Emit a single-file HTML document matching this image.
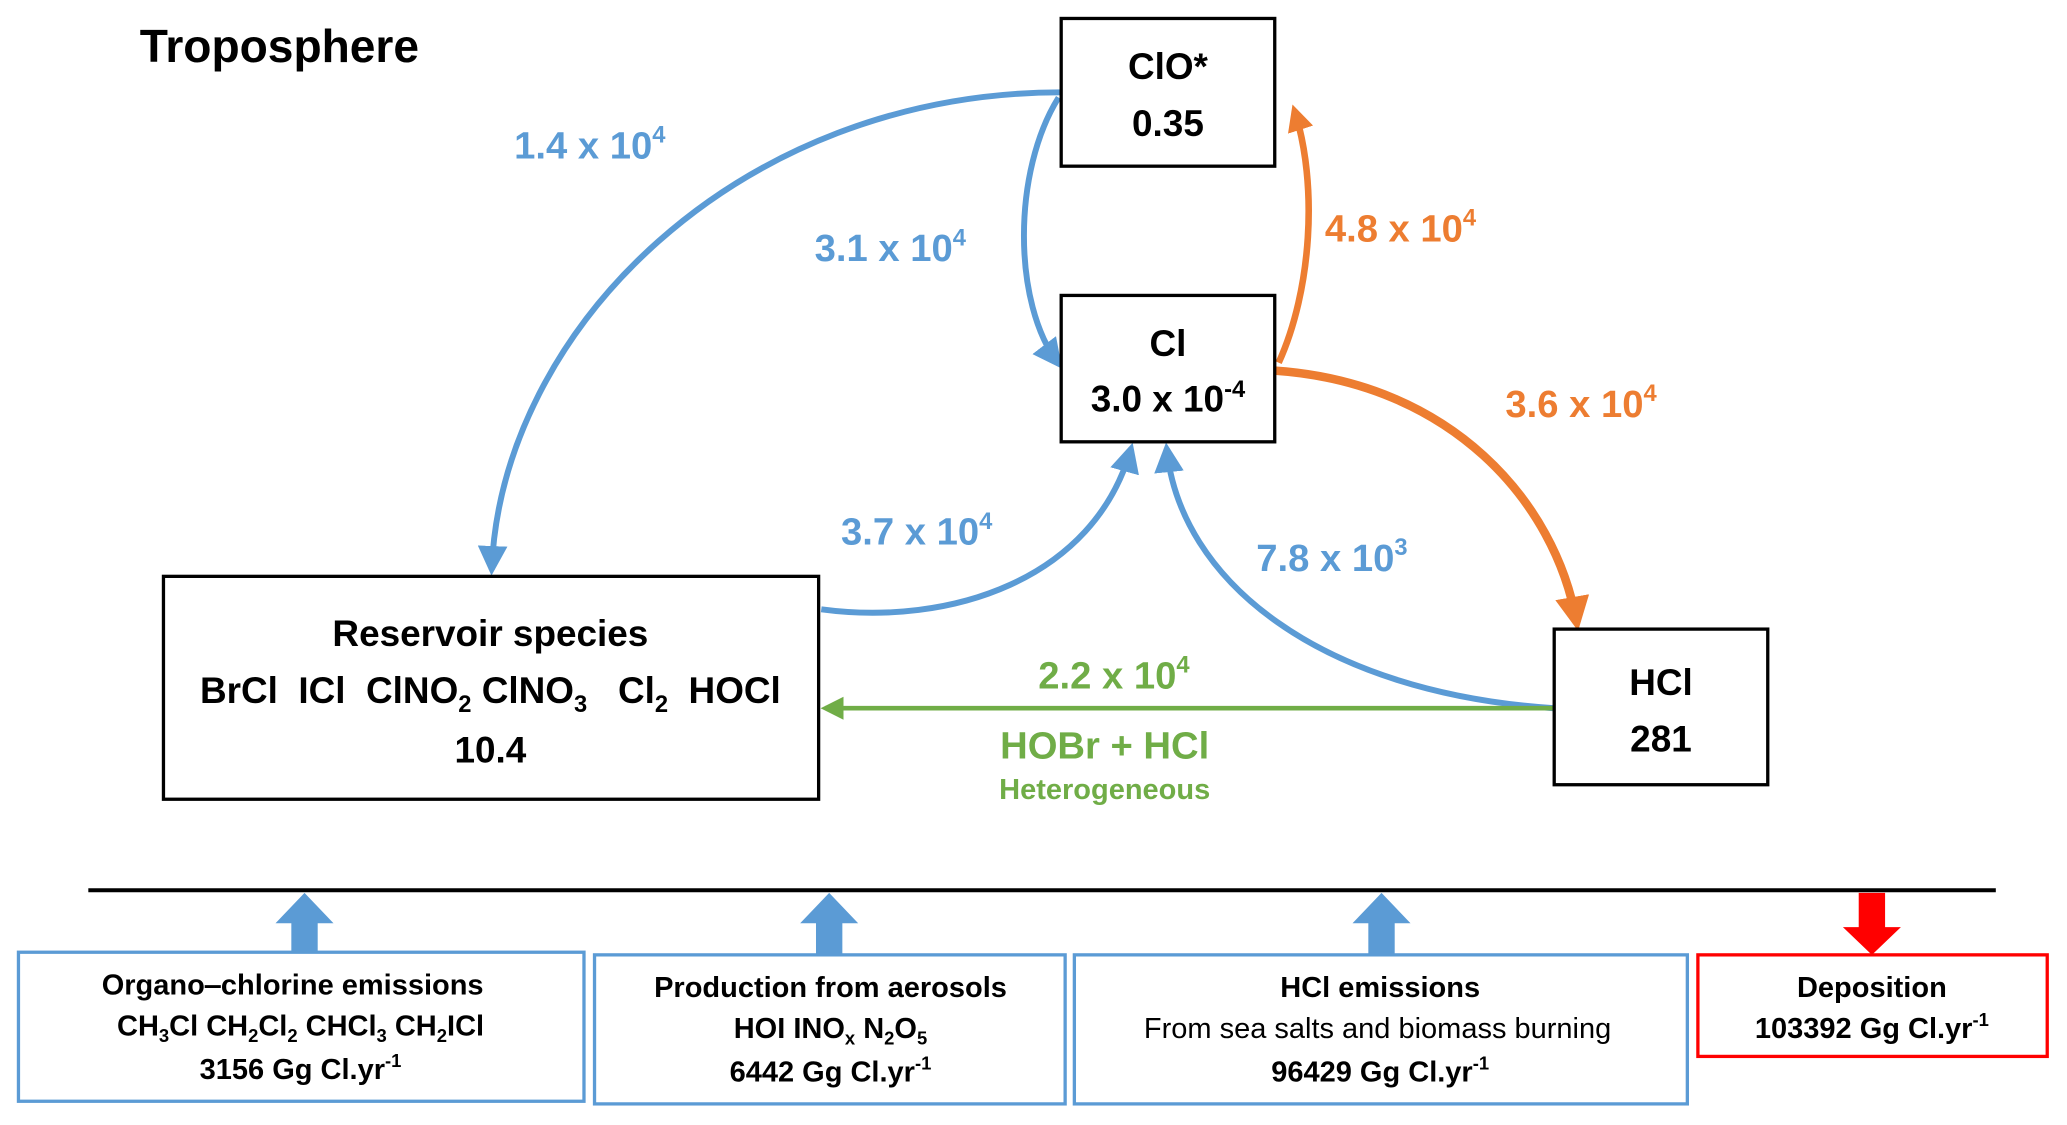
<!DOCTYPE html>
<html><head><meta charset="utf-8"><style>
html,body{margin:0;padding:0;background:#fff;}
svg{display:block;}
text{font-family:"Liberation Sans",sans-serif;font-weight:bold;white-space:pre;}
</style></head><body>
<svg width="2067" height="1125" viewBox="0 0 1568 853" preserveAspectRatio="none" xmlns="http://www.w3.org/2000/svg">
<defs>
<marker id="mb" markerWidth="5" markerHeight="5" refX="4" refY="2.5" orient="auto" markerUnits="strokeWidth"><path d="M0,0 L5,2.5 L0,5 z" fill="#5b9bd5"/></marker>
<marker id="mo" markerWidth="4" markerHeight="4" refX="3" refY="2" orient="auto" markerUnits="strokeWidth"><path d="M0,0 L4,2 L0,4 z" fill="#ed7d31"/></marker>
<marker id="mg" markerWidth="5" markerHeight="5" refX="4" refY="2.5" orient="auto" markerUnits="strokeWidth"><path d="M0,0 L5,2.5 L0,5 z" fill="#70ad47"/></marker>
</defs>
<text x="106" y="47" font-size="35">Troposphere</text>

<g fill="none" stroke="#5b9bd5" stroke-width="4.5">
<path d="M805,70 C560,70 380,250 373,432" marker-end="url(#mb)"/>
<path d="M803,74 C768,130 768,230 803,276" marker-end="url(#mb)"/>
<path d="M623,462 C720,475 830,440 858,340" marker-end="url(#mb)"/>
<path d="M1179,537 C1000,525 895,440 885,340" marker-end="url(#mb)"/>
</g>
<path d="M970,275 C995,220 1000,140 982,84" fill="none" stroke="#ed7d31" stroke-width="5" marker-end="url(#mo)"/>
<path d="M967,281 C1100,290 1180,380 1196,472" fill="none" stroke="#ed7d31" stroke-width="6.5" marker-end="url(#mo)"/>
<path d="M1179,537 L626,537" fill="none" stroke="#70ad47" stroke-width="3.5" marker-end="url(#mg)"/>

<g fill="#fff" stroke="#000" stroke-width="2.5">
<rect x="805" y="14" width="162" height="112"/>
<rect x="805" y="224" width="162" height="111"/>
<rect x="124" y="437" width="497" height="169"/>
<rect x="1179" y="477" width="162" height="118"/>
</g>
<g font-size="28" text-anchor="middle">
<text x="886" y="60">ClO*</text>
<text x="886" y="103">0.35</text>
<text x="886" y="270">Cl</text>
<text x="886" y="312">3.0 x 10<tspan dy="-11" font-size="18">-4</tspan></text>
<text x="372" y="490">Reservoir species</text>
<text x="372" y="533">BrCl  ICl  ClNO<tspan dy="7" font-size="18">2</tspan><tspan dy="-7"> ClNO</tspan><tspan dy="7" font-size="18">3</tspan><tspan dy="-7">   Cl</tspan><tspan dy="7" font-size="18">2</tspan><tspan dy="-7">  HOCl</tspan></text>
<text x="372" y="578">10.4</text>
<text x="1260" y="527">HCl</text>
<text x="1260" y="570">281</text>
</g>

<g font-size="29">
<text x="390" y="120" fill="#5b9bd5">1.4 x 10<tspan dy="-12" font-size="18">4</tspan></text>
<text x="618" y="198" fill="#5b9bd5">3.1 x 10<tspan dy="-12" font-size="18">4</tspan></text>
<text x="1005" y="183" fill="#ed7d31">4.8 x 10<tspan dy="-12" font-size="18">4</tspan></text>
<text x="1142" y="316" fill="#ed7d31">3.6 x 10<tspan dy="-12" font-size="18">4</tspan></text>
<text x="638" y="413" fill="#5b9bd5">3.7 x 10<tspan dy="-12" font-size="18">4</tspan></text>
<text x="953" y="433" fill="#5b9bd5">7.8 x 10<tspan dy="-12" font-size="18">3</tspan></text>
<text x="845" y="522" fill="#70ad47" text-anchor="middle">2.2 x 10<tspan dy="-12" font-size="18">4</tspan></text>
<text x="838" y="575" fill="#70ad47" text-anchor="middle">HOBr + HCl</text>
<text x="838" y="606" fill="#70ad47" text-anchor="middle" font-size="22">Heterogeneous</text>
</g>

<line x1="67" y1="675" x2="1514" y2="675" stroke="#000" stroke-width="3"/>
<g fill="#5b9bd5">
<path d="M221,722 L221,700 L209,700 L231,677 L253,700 L241,700 L241,722 z"/>
<path d="M619,724 L619,700 L607,700 L629,677 L651,700 L639,700 L639,724 z"/>
<path d="M1038,724 L1038,700 L1026,700 L1048,677 L1070,700 L1058,700 L1058,724 z"/>
</g>
<path d="M1410,677 L1430,677 L1430,703 L1442,703 L1420,724 L1398,703 L1410,703 z" fill="#ff0000"/>
<g fill="#fff" stroke-width="2.5">
<rect x="14" y="722" width="429" height="113" stroke="#5b9bd5"/>
<rect x="451" y="724" width="357" height="113" stroke="#5b9bd5"/>
<rect x="815" y="724" width="465" height="113" stroke="#5b9bd5"/>
<rect x="1288" y="724" width="265" height="77" stroke="#ff0000"/>
</g>
<g font-size="22" text-anchor="middle">
<text x="222" y="754">Organo‒chlorine emissions</text>
<text x="228" y="785">CH<tspan dy="5" font-size="14">3</tspan><tspan dy="-5">Cl CH</tspan><tspan dy="5" font-size="14">2</tspan><tspan dy="-5">Cl</tspan><tspan dy="5" font-size="14">2</tspan><tspan dy="-5"> CHCl</tspan><tspan dy="5" font-size="14">3</tspan><tspan dy="-5"> CH</tspan><tspan dy="5" font-size="14">2</tspan><tspan dy="-5">ICl</tspan></text>
<text x="228" y="818">3156 Gg Cl.yr<tspan dy="-9" font-size="14">-1</tspan></text>
<text x="630" y="756">Production from aerosols</text>
<text x="630" y="787">HOI INO<tspan dy="5" font-size="14">x</tspan><tspan dy="-5"> N</tspan><tspan dy="5" font-size="14">2</tspan><tspan dy="-5">O</tspan><tspan dy="5" font-size="14">5</tspan></text>
<text x="630" y="820">6442 Gg Cl.yr<tspan dy="-9" font-size="14">-1</tspan></text>
<text x="1047" y="756">HCl emissions</text>
<text x="1045" y="787" style="font-weight:normal">From sea salts and biomass burning</text>
<text x="1047" y="820">96429 Gg Cl.yr<tspan dy="-9" font-size="14">-1</tspan></text>
<text x="1420" y="756">Deposition</text>
<text x="1420" y="787">103392 Gg Cl.yr<tspan dy="-9" font-size="14">-1</tspan></text>
</g>
</svg>
</body></html>
